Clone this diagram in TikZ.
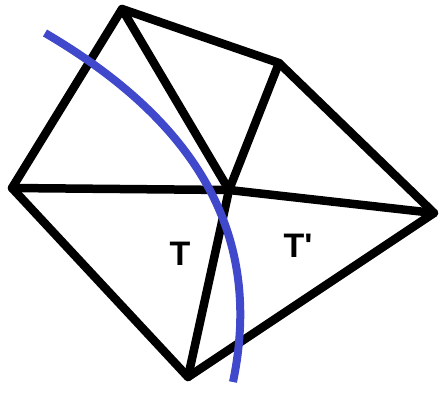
\documentclass[tikz,border=0pt]{standalone}
\usepackage{fontspec}
\setmainfont{Liberation Sans}
\begin{document}
\begin{tikzpicture}[x=1pt,y=-1pt,
  edge/.style={line width=8.5pt,black,line cap=round,line join=round},
  curvestyle/.style={line width=8pt,color=arcblue},
  lbl/.style={font=\fontsize{34}{40}\selectfont\bfseries,inner sep=0pt}]
\definecolor{arcblue}{RGB}{64,72,204}
\useasboundingbox (0,0) rectangle (443,394);
\coordinate (A) at (122,9);
\coordinate (B) at (279,63);
\coordinate (C) at (434,213);
\coordinate (D) at (229,190);
\coordinate (E) at (12,188);
\coordinate (F) at (188,377);
\draw[edge] (A) -- (B) -- (C) -- (F) -- (E) -- cycle;
\draw[edge] (A) -- (D);
\draw[edge] (B) -- (D);
\draw[edge] (E) -- (D);
\draw[edge] (D) -- (C);
\draw[edge] (D) -- (F);
\coordinate (s) at (45,33);
\coordinate (t) at (233,382);
\draw[curvestyle] (s) .. controls (195,121) and (264,233) .. (t);
\node[lbl] (T) at (180,254) {T};
\node[lbl] (Tp) at (298,246) {T\textquotesingle};
\end{tikzpicture}
\end{document}
